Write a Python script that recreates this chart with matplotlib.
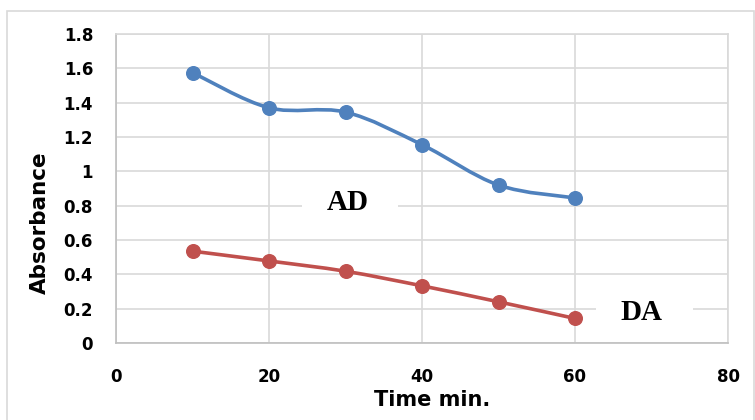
import numpy as np
import matplotlib
matplotlib.use("Agg")
import matplotlib.pyplot as plt
from matplotlib.path import Path
from matplotlib.patches import PathPatch, Rectangle

# data
time_min = [10, 20, 30, 40, 50, 60]
ad_values = [1.575, 1.37, 1.345, 1.155, 0.92, 0.845]
da_values = [0.535, 0.478, 0.418, 0.333, 0.24, 0.143]
x_ticks = [0, 20, 40, 60, 80]
y_ticks = [0, 0.2, 0.4, 0.6, 0.8, 1, 1.2, 1.4, 1.6, 1.8]
y_tick_labels = ['0', '0.2', '0.4', '0.6', '0.8', '1', '1.2', '1.4', '1.6', '1.8']

BLUE = '#4F81BD'
RED = '#C0504D'
GRID = '#d9d9d9'
SANS = 'DejaVu Sans'


def smooth_path(xs, ys):
    # Excel-like smoothed line: Catmull-Rom segments as cubic Beziers
    pts = np.column_stack([xs, ys]).astype(float)
    n = len(pts)
    verts = [pts[0]]
    codes = [Path.MOVETO]
    for i in range(n - 1):
        p0 = pts[max(i - 1, 0)]
        p1 = pts[i]
        p2 = pts[i + 1]
        p3 = pts[min(i + 2, n - 1)]
        c1 = p1 + (p2 - p0) / 6.0
        c2 = p2 - (p3 - p1) / 6.0
        verts += [c1, c2, p2]
        codes += [Path.CURVE4] * 3
    return Path(verts, codes)


fig = plt.figure(figsize=(7.55, 4.2), dpi=100)
ax = fig.add_axes([116 / 755, 77 / 420, 612 / 755, 309 / 420])

# outer chart border
fig.patches.append(Rectangle((7 / 755, -0.05), 0.99, (420 - 11) / 420 + 0.05,
                             transform=fig.transFigure, fill=False,
                             edgecolor=GRID, lw=1.2))

for xs, ys, col in [(time_min, ad_values, BLUE), (time_min, da_values, RED)]:
    ax.add_patch(PathPatch(smooth_path(xs, ys), fill=False, edgecolor=col,
                           lw=2.6, capstyle='round', zorder=3))
    ax.plot(xs, ys, 'o', color=col, markersize=9.8, zorder=4)

ax.set_xlim(0, 80)
ax.set_ylim(0, 1.8)
ax.set_xticks(x_ticks)
ax.set_yticks(y_ticks)
ax.set_yticklabels(y_tick_labels)
ax.grid(True, color=GRID, lw=1.2, zorder=0)
ax.set_axisbelow(True)
for s in ax.spines.values():
    s.set_color(GRID)
    s.set_linewidth(1.2)
ax.spines['left'].set_color('#bfbfbf')
ax.spines['bottom'].set_color('#bfbfbf')
ax.tick_params(length=0, labelsize=12)
ax.tick_params(axis='y', pad=16.5)
ax.tick_params(axis='x', pad=18)
for lab in ax.get_xticklabels() + ax.get_yticklabels():
    lab.set_fontfamily(SANS)
    lab.set_fontweight('bold')

ax.set_xlabel('Time min.', fontsize=15, fontweight='bold', family=SANS)
ax.set_ylabel('Absorbance', fontsize=15.5, fontweight='bold', family=SANS)
ax.xaxis.set_label_coords(0.516, -0.152)
ax.yaxis.set_label_coords(-0.108, 0.39)

# white label boxes that hide the gridlines
ax.add_patch(Rectangle((24.3, 0.66), 12.5, 0.3, facecolor='white',
                       edgecolor='none', zorder=1))
ax.add_patch(Rectangle((62.7, 0.06), 12.7, 0.26, facecolor='white',
                       edgecolor='none', zorder=1))
ax.text(30.3, 0.82, 'AD', fontsize=21, fontweight='bold', family='Liberation Serif',
        ha='center', va='center', zorder=2)
ax.text(68.7, 0.18, 'DA', fontsize=21, fontweight='bold', family='Liberation Serif',
        ha='center', va='center', zorder=2)

fig.savefig('out.png', dpi=100)
